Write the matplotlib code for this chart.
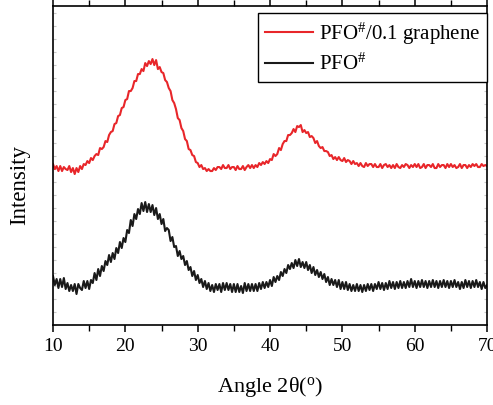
import numpy as np
import matplotlib
matplotlib.use("Agg")
import matplotlib.pyplot as plt
from matplotlib.ticker import MultipleLocator

plt.rcParams.update({
    "font.family": "Liberation Serif",
    "mathtext.default": "regular",
    "axes.linewidth": 1.2,
})

# 2-theta grid, 0.25 deg steps from 10 to 70
two_theta = np.arange(10, 70.001, 0.25)

# PFO#/0.1 graphene (a.u., offset trace)
pfo_graphene = [
    161, 156, 159, 154, 159, 154, 158, 156, 155, 159, 153, 157, 151, 157, 153, 159,
    156, 161, 160, 164, 162, 167, 165, 169, 171, 170, 177, 176, 178, 184, 183, 190,
    193, 194, 201, 202, 209, 210, 217, 218, 225, 226, 234, 234, 237, 244, 244, 251,
    251, 256, 254, 262, 259, 264, 261, 266, 260, 265, 256, 258, 253, 252, 245, 243,
    237, 234, 225, 222, 216, 207, 205, 197, 194, 186, 184, 176, 175, 170, 169, 163,
    162, 158, 160, 156, 157, 154, 156, 154, 154, 157, 155, 158, 158, 156, 160, 157,
    157, 160, 156, 158, 158, 155, 159, 156, 156, 159, 155, 158, 160, 157, 160, 157,
    160, 158, 162, 160, 163, 161, 164, 162, 166, 165, 171, 169, 171, 177, 175, 181,
    184, 184, 190, 190, 192, 196, 193, 199, 198, 200, 193, 195, 192, 193, 188, 189,
    187, 182, 184, 179, 177, 178, 174, 174, 173, 169, 170, 166, 168, 165, 168, 165,
    164, 167, 163, 165, 164, 161, 164, 161, 162, 159, 162, 159, 158, 162, 159, 161,
    161, 158, 161, 158, 158, 161, 157, 160, 161, 158, 160, 157, 160, 157, 161, 158,
    157, 160, 158, 161, 160, 157, 160, 158, 161, 158, 161, 157, 158, 161, 157, 160,
    160, 158, 161, 157, 157, 161, 158, 160, 160, 157, 161, 158, 161, 158, 160, 157,
    158, 161, 157, 160, 160, 157, 160, 158, 161, 159, 161, 158, 158, 161, 159, 160,
    159,
]

# PFO# (a.u.)
pfo = [
    49, 40, 46, 37, 46, 38, 47, 36, 42, 34, 40, 34, 41, 31, 41, 37,
    35, 44, 37, 44, 36, 45, 42, 52, 45, 56, 49, 59, 54, 64, 60, 70,
    63, 72, 66, 77, 72, 83, 77, 87, 83, 95, 92, 105, 99, 111, 106, 116,
    111, 122, 114, 123, 113, 121, 113, 120, 110, 117, 106, 111, 101, 106, 94, 97,
    95, 84, 88, 78, 79, 69, 74, 66, 69, 60, 64, 55, 58, 49, 54, 45,
    50, 42, 46, 38, 44, 36, 42, 34, 40, 33, 41, 35, 41, 33, 42, 35,
    42, 35, 41, 33, 41, 33, 41, 33, 39, 32, 42, 34, 41, 34, 41, 34,
    41, 34, 42, 36, 43, 37, 43, 38, 45, 39, 48, 43, 49, 45, 53, 49,
    56, 52, 60, 56, 62, 57, 65, 59, 66, 58, 63, 57, 63, 55, 60, 52,
    58, 50, 55, 48, 53, 46, 51, 43, 48, 40, 46, 40, 45, 38, 45, 36,
    43, 36, 43, 35, 41, 34, 40, 34, 41, 34, 40, 33, 40, 34, 41, 35,
    41, 34, 41, 36, 43, 36, 42, 35, 42, 36, 44, 37, 43, 36, 43, 37,
    44, 37, 43, 37, 44, 38, 46, 38, 44, 37, 44, 38, 45, 38, 44, 37,
    44, 38, 45, 38, 44, 37, 44, 38, 45, 38, 44, 37, 44, 38, 45, 38,
    43, 36, 43, 37, 45, 38, 44, 37, 44, 38, 45, 38, 43, 36, 43, 37,
    40,
]

fig = plt.figure(figsize=(4.93, 4.05), dpi=100)
ax = fig.add_axes([0.1075, 0.1975, 0.8805, 0.7875])

ax.plot(two_theta, pfo_graphene, color="#e8262a", lw=1.5,
        label="PFO$^{\\#}$/0.1 graphene")
ax.plot(two_theta, pfo, color="#1a1a1a", lw=1.5, label="PFO$^{\\#}$")

ax.set_xlim(10, 70)
ax.set_ylim(0, 319)

ax.xaxis.set_major_locator(MultipleLocator(10))
ax.xaxis.set_minor_locator(MultipleLocator(5))
ax.tick_params(axis="x", which="both", direction="out", top=True,
               labelsize=14, pad=4)
ax.tick_params(axis="x", which="major", length=5, width=1.1)
ax.tick_params(axis="x", which="minor", length=4, width=1.0)
ax.yaxis.set_major_locator(MultipleLocator(13))
ax.tick_params(axis="y", which="major", direction="in", length=2,
               color="#c8c8c8", labelleft=False, right=True)

ax.set_xlabel("Angle 2θ($^{o}$)", fontsize=16, labelpad=15)
ax.set_ylabel("Intensity", fontsize=16.5)
ax.yaxis.set_label_coords(-0.053, 0.44)

leg = ax.legend(loc="upper right", bbox_to_anchor=(1.0, 0.978),
                borderaxespad=0, fontsize=15, handlelength=2.3,
                handletextpad=0.25, labelspacing=0.35, borderpad=0.35,
                fancybox=False, framealpha=1)
leg.get_frame().set_edgecolor("black")
leg.get_frame().set_linewidth(1.0)

fig.savefig("out.png", dpi=100, facecolor="white")
